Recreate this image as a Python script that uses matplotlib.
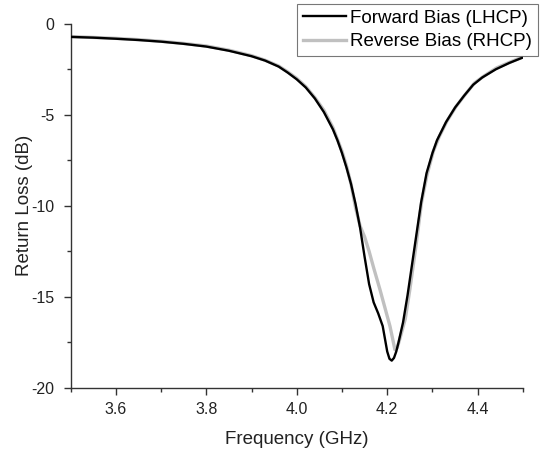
import matplotlib
matplotlib.use("Agg")
import matplotlib.pyplot as plt
from matplotlib.ticker import MultipleLocator

plt.rcParams['font.family'] = ['Liberation Sans', 'DejaVu Sans']

# forward bias (LHCP), black curve
f_fwd = [3.50, 3.55, 3.60, 3.65, 3.70, 3.75, 3.80, 3.85, 3.90, 3.93, 3.96, 3.98,
         4.00, 4.02, 4.04, 4.06, 4.08, 4.09, 4.10, 4.11, 4.12, 4.13, 4.14, 4.15,
         4.16, 4.17, 4.18, 4.19, 4.195, 4.20, 4.205, 4.21, 4.215, 4.22, 4.225,
         4.235, 4.245, 4.255, 4.265, 4.275, 4.287, 4.30, 4.31, 4.33, 4.35, 4.37,
         4.39, 4.41, 4.44, 4.47, 4.50]
s_fwd = [-0.72, -0.76, -0.82, -0.89, -0.98, -1.10, -1.25, -1.48, -1.78, -2.02, -2.35, -2.68,
         -3.05, -3.50, -4.10, -4.85, -5.80, -6.40, -7.10, -7.90, -8.80, -9.90, -11.2, -12.8,
         -14.3, -15.3, -15.9, -16.6, -17.3, -18.0, -18.4, -18.5, -18.35, -18.0, -17.5,
         -16.4, -14.9, -13.2, -11.5, -9.8, -8.2, -7.1, -6.4, -5.4, -4.6, -3.95,
         -3.35, -2.95, -2.50, -2.15, -1.85]

# reverse bias (RHCP), grey curve
f_rev = [3.50, 3.55, 3.60, 3.65, 3.70, 3.75, 3.80, 3.85, 3.90, 3.93, 3.96, 3.98,
         4.00, 4.02, 4.04, 4.06, 4.08, 4.10, 4.11, 4.12, 4.13, 4.14, 4.15, 4.16,
         4.17, 4.184, 4.195, 4.206, 4.212, 4.217, 4.222, 4.228, 4.24, 4.25,
         4.263, 4.276, 4.288, 4.302, 4.315, 4.332, 4.352, 4.372, 4.393, 4.415, 4.442,
         4.47, 4.497]
s_rev = [-0.70, -0.75, -0.80, -0.87, -0.96, -1.08, -1.22, -1.45, -1.75, -2.00, -2.32, -2.64,
         -3.00, -3.45, -4.05, -4.75, -5.70, -7.00, -7.80, -8.80, -10.1, -11.1, -11.7, -12.5,
         -13.4, -14.6, -15.6, -16.6, -17.3, -17.9, -17.8, -17.3, -16.2, -14.6,
         -12.3, -9.8, -8.3, -7.0, -6.2, -5.35, -4.55, -3.9, -3.25, -2.85, -2.42,
         -2.12, -1.85]

fig = plt.figure(figsize=(5.43, 4.49), dpi=100)
ax = fig.add_axes([0.130, 0.136, 0.833, 0.811])

ax.plot(f_rev, s_rev, color='#c0c0c0', lw=2.4, label='Reverse Bias (RHCP)', zorder=2)
ax.plot(f_fwd, s_fwd, color='black', lw=1.7, label='Forward Bias (LHCP)', zorder=3)

ax.set_xlim(3.5, 4.5)
ax.set_ylim(-20, 0)
ax.xaxis.set_minor_locator(MultipleLocator(0.1))
ax.yaxis.set_minor_locator(MultipleLocator(2.5))
ax.set_xticks([3.6, 3.8, 4.0, 4.2, 4.4])
ax.set_xticklabels(['3.6', '3.8', '4.0', '4.2', '4.4'])
ax.set_yticks([0, -5, -10, -15, -20])
ax.set_yticklabels(['0', '-5', '-10', '-15', '-20'])

for s in ['top', 'right']:
    ax.spines[s].set_visible(False)
for s in ['left', 'bottom']:
    ax.spines[s].set_color('#333333')
    ax.spines[s].set_linewidth(1.0)
ax.tick_params(which='major', direction='out', length=5, width=1, color='#333333',
               labelsize=11.5, labelcolor='#222222')
ax.tick_params(axis='x', which='major', pad=5)
ax.tick_params(axis='y', which='major', pad=6.5)
ax.tick_params(which='minor', direction='out', length=3, width=1, color='#333333')

ax.set_xlabel('Frequency (GHz)', fontsize=13.5, color='#222222', labelpad=10)
ax.set_ylabel('Return Loss (dB)', fontsize=13.5, color='#222222', labelpad=-1)

handles, labels = ax.get_legend_handles_labels()
leg = ax.legend(handles[::-1], labels[::-1], loc='upper right',
                bbox_to_anchor=(538 / 543, 1 - 4 / 449), bbox_transform=fig.transFigure,
                fontsize=13.5, frameon=True, fancybox=False, handlelength=2.3,
                handletextpad=0.25, borderpad=0.3, borderaxespad=0, labelspacing=0.35)
leg.get_frame().set_edgecolor('#555555')
leg.get_frame().set_linewidth(0.8)

fig.savefig('out.png', dpi=100)
